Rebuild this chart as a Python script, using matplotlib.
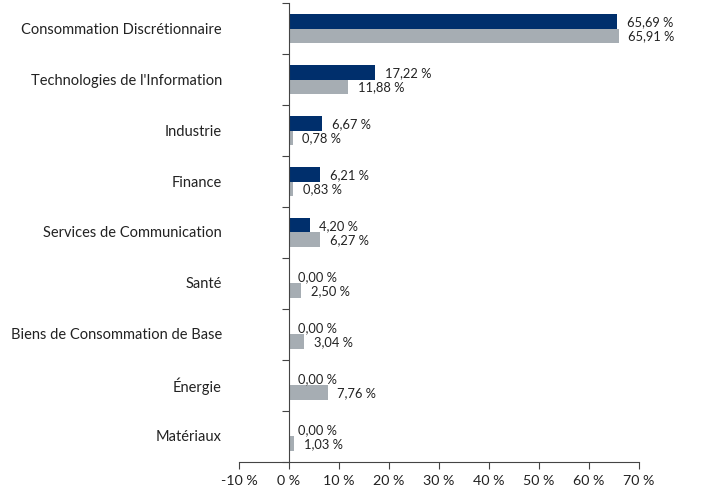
import matplotlib
matplotlib.use("Agg")
import matplotlib.pyplot as plt
import numpy as np

plt.rcParams['font.family'] = ['Lato', 'DejaVu Sans']

categories = ["Consommation Discrétionnaire", "Technologies de l'Information", "Industrie",
              "Finance", "Services de Communication", "Santé",
              "Biens de Consommation de Base", "Énergie", "Matériaux"]
fund = [65.69, 17.22, 6.67, 6.21, 4.20, 0.00, 0.00, 0.00, 0.00]
index = [65.91, 11.88, 0.78, 0.83, 6.27, 2.50, 3.04, 7.76, 1.03]
xticks = [-10, 0, 10, 20, 30, 40, 50, 60, 70]

navy = "#002f6c"
grey = "#a6adb3"

def fmt(v):
    return f"{v:.2f}".replace(".", ",") + " %"

fig = plt.figure(figsize=(7.17, 4.89), dpi=100)
ax = fig.add_axes([0.3333, 0.0532, 0.5579, 0.9386])

y = np.arange(len(categories))
h = 0.28
ax.barh(y - h / 2, fund, height=h, color=navy)
ax.barh(y + h / 2, index, height=h, color=grey)

for i in range(len(categories)):
    ax.text(fund[i] + 1.9, y[i] - h / 2, fmt(fund[i]), va="center", ha="left", fontsize=9.3, color="#222222")
    ax.text(index[i] + 1.9, y[i] + h / 2, fmt(index[i]), va="center", ha="left", fontsize=9.3, color="#222222")
    ax.text(-0.0425, y[i], categories[i], transform=ax.get_yaxis_transform(),
            va="center", ha="right", fontsize=10.5, color="#222222")

ax.set_xlim(-10, 70)
ax.set_ylim(len(categories) - 0.5, -0.5)
ax.set_xticks(xticks)
ax.set_xticklabels([f"{t} %" for t in xticks], fontsize=10.3, color="#222222")
ax.set_yticks(np.arange(len(categories) + 1) - 0.5)
ax.set_yticklabels([])

for s in ["top", "right"]:
    ax.spines[s].set_visible(False)
ax.spines["left"].set_position(("data", 0))
ax.spines["left"].set_color("#444444")
ax.spines["bottom"].set_color("#444444")
ax.tick_params(axis="y", length=5, color="#444444")
ax.tick_params(axis="x", length=5, color="#444444", pad=4)

fig.savefig("out.png", dpi=100)
